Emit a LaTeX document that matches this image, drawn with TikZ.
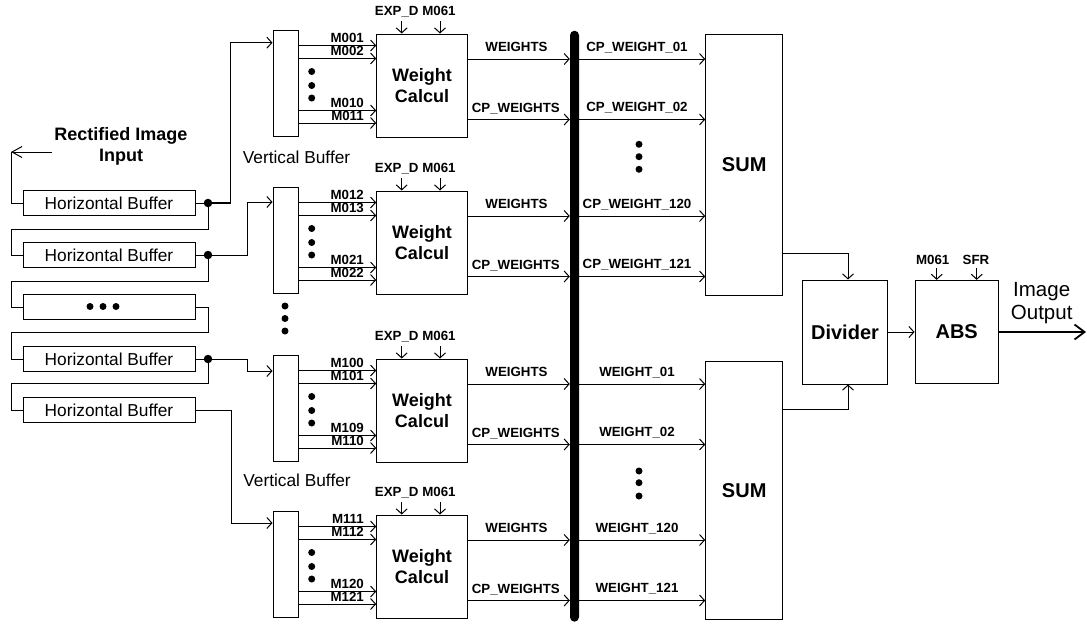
\documentclass[tikz,border=0pt]{standalone}
\usepackage{fontspec}
\setmainfont{Liberation Sans}
\usetikzlibrary{arrows.meta}
\newcommand\hbfont{\fontsize{17.3}{19}\selectfont}
\newcommand\wcfont{\fontsize{18}{21.5}\selectfont\bfseries}
\newcommand\bigbfont{\fontsize{20}{24}\selectfont\bfseries}
\newcommand\lblfont{\fontsize{13.3}{14}\selectfont\bfseries}
\tikzset{
  box/.style={draw, line width=1pt, inner sep=0pt, align=center},
  ln/.style={line width=1pt},
  arr/.style={ln, -{Straight Barb[length=5pt,width=11pt]}},
  bigarr/.style={-{Straight Barb[length=10pt,width=11pt]}},
  outarr/.style={line width=1.8pt, -{Straight Barb[length=10pt,width=15pt]}},
  lbl/.style={font=\lblfont, inner sep=0pt},
  dotc/.style={fill, circle, inner sep=0pt, minimum size=7pt},
  jdot/.style={fill, circle, inner sep=0pt, minimum size=8.5pt},
}
\begin{document}
\begin{tikzpicture}[x=1pt,y=-1pt]
\useasboundingbox (0,0) rectangle (1087,625);
% ---------- horizontal buffers ----------
\foreach \n/\yv in {1/203,2/255,4/359,5/410}
  \node[box, minimum width=172pt, minimum height=25pt, font=\hbfont] (HB\n) at (109,\yv) {Horizontal Buffer};
\node[box, minimum width=172pt, minimum height=25pt] (HB3) at (109,307) {};
\foreach \i/\xv in {1/90,2/103,3/116}
  \node[dotc] (hd\i) at (\xv,306.5) {};
\node[jdot] (J1) at (208,203) {};
\node[jdot] (J2) at (208,255) {};
\node[jdot] (J4) at (208,359) {};
\draw[ln] (HB1.east) -- (J1);
\draw[ln] (HB2.east) -- (J2);
\draw[ln] (HB4.east) -- (J4);
% input
\coordinate (inS) at (52,152);
\coordinate (inT) at (11,152);
\node[font=\wcfont, align=center, inner sep=0pt] (rii) at (121,146.5) {Rectified Image\\Input};
\draw[ln, bigarr] (inS) -- (inT);
\draw[ln] (inT) |- (HB1.west);
\draw[ln] (J1) |- (11,229) |- (HB2.west);
\draw[ln] (J2) |- (11,281) |- (HB3.west);
\draw[ln] (HB3.east) -| (208,332) -- (11,332) |- (HB4.west);
\draw[ln] (J4) |- (11,383) |- (HB5.west);
% vertical dots between blocks
\foreach \i/\yv in {1/306,2/318.5,3/331} \node[dotc] (vd\i) at (285,\yv) {};
% Vertical Buffer labels
\node[font=\hbfont, inner sep=0pt, anchor=base] (vbl1) at (296.5,163.3) {Vertical Buffer};
\node[font=\hbfont, inner sep=0pt, anchor=base] (vbl2) at (297,486.7) {Vertical Buffer};
% bus
\node[fill, minimum width=9pt, minimum height=591pt, rounded corners=4.5pt, inner sep=0pt] (bus) at (574.5,326.2) {};
% ---------- weight blocks ----------
\foreach \b/\T/\ma/\mb/\mc/\md in {1/34/M001/M002/M010/M011, 2/191/M012/M013/M021/M022, 3/359/M100/M101/M109/M110, 4/515/M111/M112/M120/M121}{
  \node[box, minimum width=25pt, minimum height=106pt] (VB\b) at (285.5,\T+49) {};
  \node[box, minimum width=90.6pt, minimum height=103pt, font=\wcfont] (WC\b) at (422,\T+51.5) {Weight\\Calcul};
  \foreach \o/\lab [count=\k] in {11.5/\ma, 24.5/\mb, 76.5/\mc, 89/\md}{
    \pgfmathsetmacro\yy{\T+\o}
    \draw[arr] (VB\b.east |- 0,\yy) -- (WC\b.west |- 0,\yy);
    \node[lbl, anchor=base east] (m\b\k) at (364,\yy-3) {\lab};
  }
  \foreach \o [count=\k] in {37.5,51.5,64} \node[dotc] (md\b\k) at (311.7,\T+\o) {};
  \node[lbl, anchor=base] (ex\b) at (396.7,\T-19) {EXP\_D};
  \node[lbl, anchor=base] (mm\b) at (439,\T-19) {M061};
  \coordinate (ea\b) at (401.7,\T-13);
  \coordinate (ma\b) at (440,\T-13);
  \draw[arr] (ea\b) -- (ea\b |- WC\b.north);
  \draw[arr] (ma\b) -- (ma\b |- WC\b.north);
  \pgfmathsetmacro\yw{\T+25}
  \pgfmathsetmacro\yc{\T+85.5}
  \draw[arr] (WC\b.east |- 0,\yw) -- (bus.west |- 0,\yw);
  \draw[arr] (WC\b.east |- 0,\yc) -- (bus.west |- 0,\yc);
  \node[lbl, anchor=base] (wl\b) at (516.5,\yw-7.5) {WEIGHTS};
  \node[lbl, anchor=base] (cl\b) at (515.8,\yc-7.5) {CP\_WEIGHTS};
}
% feeds into vertical buffers
\draw[arr] (J1) -| (230,42.7) -- (VB1.west |- 0,42.7);
\draw[line width=2pt] (J1) -- (230,203);
\draw[arr] (J2) -| (247,202) -- (VB2.west |- 0,202);
\draw[arr] (J4) -| (247,371) -- (VB3.west |- 0,371);
\draw[arr] (HB5.east) -| (231,523) -- (VB4.west |- 0,523);
% ---------- SUM blocks ----------
\node[box, minimum width=77pt, minimum height=261.4pt, font=\bigbfont] (SUM1) at (744.2,165) {SUM};
\node[box, minimum width=77pt, minimum height=257.6pt, font=\bigbfont] (SUM2) at (744.2,490.5) {SUM};
\foreach \yv/\lab [count=\k] in {59/CP\_WEIGHT\_01, 119.5/CP\_WEIGHT\_02, 216/CP\_WEIGHT\_120, 276.5/CP\_WEIGHT\_121}{
  \draw[arr] (bus.east |- 0,\yv) -- (SUM1.west |- 0,\yv);
  \node[lbl, anchor=base] (sa\k) at (637,\yv-8) {\lab};
}
\foreach \yv/\lab [count=\k] in {384/WEIGHT\_01, 444.5/WEIGHT\_02, 540/WEIGHT\_120, 600.5/WEIGHT\_121}{
  \draw[arr] (bus.east |- 0,\yv) -- (SUM2.west |- 0,\yv);
  \node[lbl, anchor=base] (sb\k) at (637,\yv-8) {\lab};
}
\foreach \yv [count=\k] in {144.3,156.7,169.3} \node[dotc] (sd\k) at (639,\yv) {};
\foreach \yv [count=\k] in {471,482.7,496} \node[dotc] (td\k) at (639,\yv) {};
% ---------- divider / ABS ----------
\node[box, minimum width=84.6pt, minimum height=104pt, font=\bigbfont] (Div) at (845,332) {Divider};
\node[box, minimum width=83.3pt, minimum height=103.3pt, font=\bigbfont] (ABS) at (956.7,332) {ABS};
\draw[arr] (SUM1.east |- 0,253.3) -| ([xshift=3pt]Div.north);
\draw[arr] (SUM2.east |- 0,409) -| ([xshift=3pt]Div.south);
\draw[arr] (Div.east) -- (ABS.west);
\node[lbl, anchor=base] (am) at (932.7,264) {M061};
\node[lbl, anchor=base] (as) at (976,264) {SFR};
\coordinate (aa) at (936.7,268);
\coordinate (ab) at (976.7,268);
\draw[arr] (aa) -- (aa |- ABS.north);
\draw[arr] (ab) -- (ab |- ABS.north);
\coordinate (out) at (1086,332);
\draw[outarr] (ABS.east) -- (out);
\node[font=\fontsize{20.5}{23}\selectfont, align=center, inner sep=0pt] (iol) at (1041.7,303.5) {Image\\Output};
\end{tikzpicture}
\end{document}
